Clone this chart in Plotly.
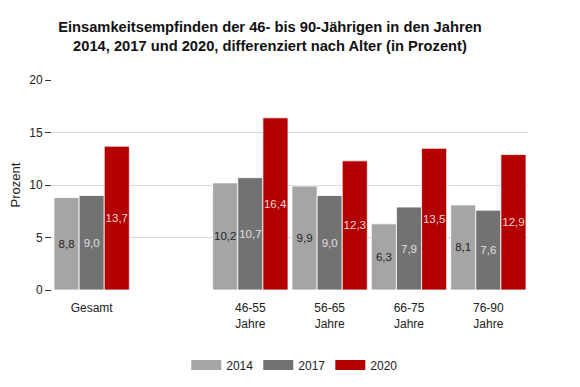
import plotly.graph_objects as go

categories = ["Gesamt", " ", "46-55<br>Jahre", "56-65<br>Jahre", "66-75<br>Jahre", "76-90<br>Jahre"]
years = ["2014", "2017", "2020"]
v2014 = [8.8, None, 10.2, 9.9, 6.3, 8.1]
v2017 = [9.0, None, 10.7, 9.0, 7.9, 7.6]
v2020 = [13.7, None, 16.4, 12.3, 13.5, 12.9]

colors = ["#a5a5a5", "#727272", "#b30000"]
text_colors = ["#222222", "#e0e0e0", "#f7d6d6"]
FONT = "Liberation Sans, Arial, sans-serif"

def fmt(v):
    return "" if v is None else f"{v:.1f}".replace(".", ",")

fig = go.Figure()
for name, vals, c, tc in zip(years, [v2014, v2017, v2020], colors, text_colors):
    fig.add_trace(go.Bar(
        x=categories, y=vals, name=name, showlegend=False, legendgroup=name,
        marker=dict(color=c, line=dict(color="white", width=0.8)),
        text=[fmt(v) for v in vals], textposition="inside",
        insidetextanchor="middle", textangle=0,
        textfont=dict(color=tc, size=11.5, family=FONT),
    ))
# legend entries (wide rectangular swatches)
for name, c in zip(years, colors):
    fig.add_trace(go.Scatter(
        x=[None], y=[None], mode="lines", name=name, legendgroup=name,
        line=dict(color=c, width=12), showlegend=True,
    ))

fig.update_layout(
    width=572, height=379,
    margin=dict(l=44, r=52, t=72, b=97, autoexpand=False),
    paper_bgcolor="white", plot_bgcolor="white",
    barmode="group", bargap=0.05, bargroupgap=0,
    font=dict(family=FONT, color="#222222", size=12),
    title=dict(
        text="<b>Einsamkeitsempfinden der 46- bis 90-Jährigen in den Jahren<br>2014, 2017 und 2020, differenziert nach Alter (in Prozent)</b>",
        x=0.458, xanchor="center", y=0.937, yref="container", yanchor="middle",
        font=dict(size=14.7, color="#111111"),
    ),
    showlegend=True,
    legend=dict(orientation="h", x=0.51, xanchor="center", y=-0.357, yanchor="middle",
                font=dict(size=12), traceorder="normal", itemwidth=30),
    uniformtext=dict(mode="show", minsize=11.5),
)
fig.update_xaxes(showgrid=False, showline=False, ticks="", tickfont=dict(size=12),
                 automargin=False, ticklabelstandoff=9)
fig.update_yaxes(range=[0, 20], tickvals=[0, 5, 10, 15, 20], showgrid=True,
                 gridcolor="#d9d9d9", gridwidth=1, zeroline=False,
                 ticks="outside", ticklen=6, tickcolor="#333333", automargin=False,
                 title=dict(text="Prozent", font=dict(size=13), standoff=10),
                 tickfont=dict(size=12))

fig.write_html("out.html")
